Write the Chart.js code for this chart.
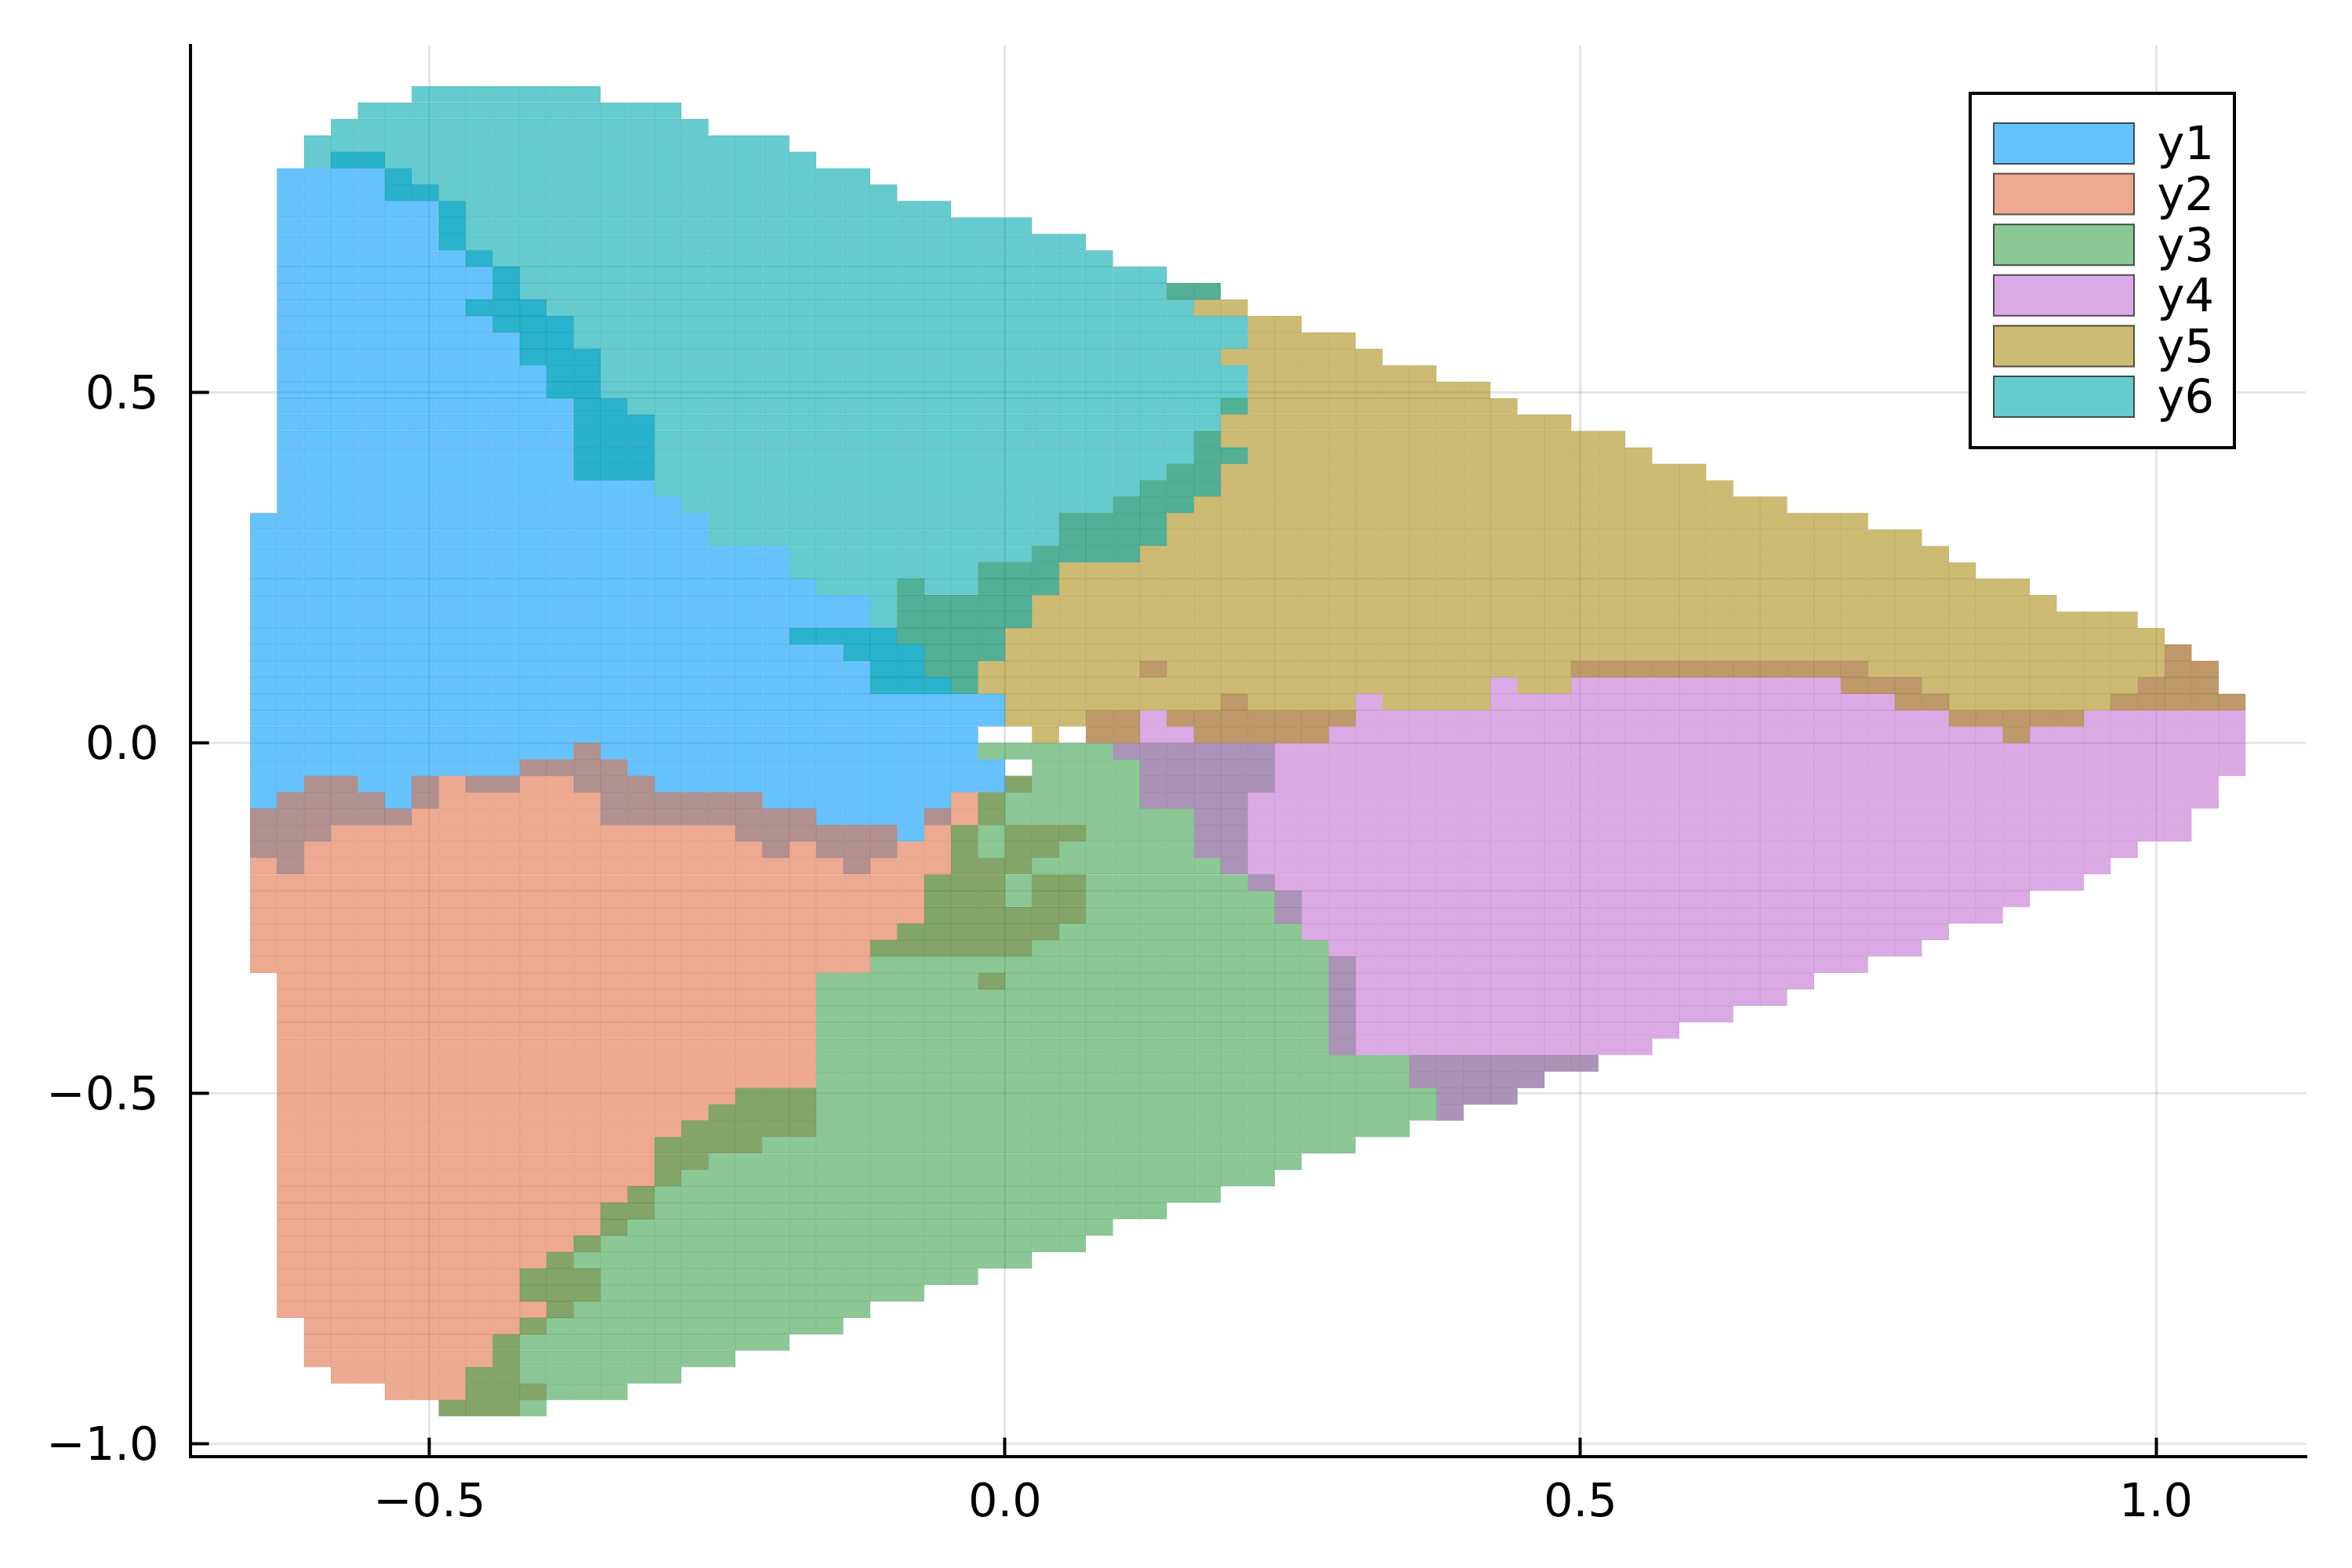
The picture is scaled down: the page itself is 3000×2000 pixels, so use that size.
<!DOCTYPE html>
<html>
<head>
<meta charset="utf-8">
<script src="https://cdn.jsdelivr.net/npm/chart.js@4/dist/chart.umd.min.js"></script>
<style>html,body{margin:0;padding:0;background:#fff}canvas{display:block}</style>
</head>
<body>
<canvas id="c" width="3000" height="2000"></canvas>
<script>
const seriesNames = ['y1','y2','y3','y4','y5','y6'];
const xTicks = [-0.5, 0, 0.5, 1];
const xTickLabels = ['\u22120.5','0.0','0.5','1.0'];
const yTicks = [-1, -0.5, 0, 0.5];
const yTickLabels = ['\u22121.0','\u22120.5','0.0','0.5'];
const binSize = 0.02343;
// each run: [column bin, lowest row edge, highest row edge], in bins of binSize
const y1Runs = [[-28,-7,14],[-27,-8,35],[-26,-6,35],[-25,-5,36],[-24,-5,36],[-23,-5,35],[-22,-4,34],[-21,-2,33],[-20,-3,30],[-19,-3,29],[-18,-2,27],[-17,-2,26],[-16,-3,24],[-15,-5,21],[-14,-5,20],[-13,-5,15],[-12,-5,14],[-11,-5,12],[-10,-6,12],[-9,-7,12],[-8,-6,10],[-7,-7,9],[-6,-8,9],[-5,-7,7],[-4,-6,6],[-3,-5,4],[-2,-3,3],[-1,-3,-1],[-1,1,3]];
const y2Runs = [[-28,-14,-4],[-27,-35,-3],[-26,-38,-2],[-25,-39,-2],[-24,-39,-3],[-23,-40,-4],[-22,-40,-2],[-21,-41,-2],[-20,-41,-2],[-19,-41,-2],[-18,-36,-1],[-18,-40,-39],[-17,-35,-1],[-16,-31,0],[-16,-34,-32],[-15,-30,-1],[-14,-29,-2],[-13,-27,-3],[-12,-26,-3],[-11,-25,-3],[-10,-25,-3],[-9,-24,-4],[-8,-24,-4],[-7,-14,-5],[-6,-14,-5],[-5,-13,-5],[-4,-13,-6],[-3,-13,-4],[-2,-13,-3],[-1,-5,-3],[-1,-13,-7],[-1,-15,-14],[0,-3,-2],[0,-8,-5],[0,-13,-10],[1,-7,-5],[1,-12,-8],[2,-6,-5],[2,-11,-8]];
const y3Runs = [[-21,-41,-40],[-20,-41,-38],[-19,-41,-36],[-18,-41,-35],[-18,-34,-32],[-17,-40,-31],[-16,-40,-30],[-15,-40,-28],[-14,-39,-27],[-13,-39,-24],[-12,-38,-23],[-11,-38,-22],[-10,-37,-21],[-9,-37,-21],[-8,-36,-21],[-7,-36,-14],[-6,-35,-14],[-5,-34,-12],[-4,-34,-11],[-3,-33,-8],[-2,-33,-5],[-1,-32,-3],[-1,-1,0],[0,-32,-2],[0,-1,0],[1,-31,0],[2,-31,0],[3,-30,0],[4,-29,0],[5,-29,0],[6,-28,0],[7,-28,0],[8,-27,0],[9,-27,-8],[9,-3,0],[10,-26,-9],[11,-25,-12],[12,-25,-13],[13,-24,-19],[14,-24,-19],[15,-23,-19],[16,-23,-19],[17,-22,-19],[18,-22,-19],[19,-21,-19],[20,-20,-19],[21,-20,-19]];
const y4Runs = [[3,0,2],[4,-1,2],[5,-4,2],[5,4,5],[6,-4,2],[7,-7,2],[8,-8,3],[9,-9,2],[10,-11,2],[11,-12,2],[12,-19,2],[13,-19,3],[14,-19,2],[15,-21,2],[16,-23,2],[17,-22,2],[18,-22,4],[19,-21,3],[20,-20,3],[21,-20,5],[22,-19,5],[23,-19,5],[24,-18,5],[25,-17,5],[26,-17,5],[27,-16,5],[28,-16,5],[29,-15,5],[30,-14,5],[31,-14,5],[32,-13,4],[33,-13,4],[34,-12,3],[35,-11,2],[36,-11,2],[37,-10,2],[38,-9,2],[39,-9,2],[40,-8,2],[41,-7,3],[42,-6,4],[43,-6,6],[44,-4,5],[45,-2,3]];
const y5Runs = [[-4,6,10],[-3,4,9],[-2,3,9],[-1,3,11],[0,1,11],[1,0,12],[2,1,14],[3,0,14],[4,0,15],[5,2,16],[6,1,17],[6,27,28],[7,0,19],[7,26,28],[8,0,21],[8,23,24],[8,26,27],[9,0,26],[10,0,26],[11,0,25],[12,1,25],[13,3,24],[14,2,23],[15,2,23],[16,2,22],[17,2,22],[18,4,21],[19,3,20],[20,3,20],[21,4,19],[22,4,19],[23,4,18],[24,4,17],[25,4,17],[26,4,16],[27,4,15],[28,4,15],[29,4,14],[30,4,14],[31,3,14],[32,3,13],[33,2,13],[34,2,12],[35,1,11],[36,1,10],[37,0,10],[38,1,9],[39,1,8],[40,2,8],[41,2,8],[42,2,7],[43,2,6],[44,2,5],[45,2,3]];
const y6Runs = [[-26,35,37],[-25,35,38],[-24,35,39],[-23,33,39],[-22,33,40],[-21,30,40],[-20,29,40],[-20,26,27],[-19,25,40],[-18,23,40],[-17,21,40],[-16,16,40],[-15,16,39],[-14,16,39],[-13,15,39],[-12,14,38],[-11,12,37],[-10,12,37],[-9,12,37],[-8,10,36],[-8,6,7],[-7,9,35],[-7,6,7],[-6,9,35],[-6,5,7],[-5,3,34],[-4,3,33],[-3,3,33],[-2,3,32],[-1,5,32],[0,7,32],[1,9,31],[2,11,31],[3,11,30],[4,11,29],[5,12,29],[6,14,28],[7,15,26],[7,27,28],[8,17,18],[8,20,23],[8,24,26]];

const allRuns = [y1Runs,y2Runs,y3Runs,y4Runs,y5Runs,y6Runs];
const rgb = [[0,154,250],[227,111,71],[62,164,78],[195,113,210],[172,141,24],[0,169,173]];
const FONT = {family:'"DejaVu Sans"', size:59};
// Chart.js trims half a grid line off any bar that starts exactly on 0; this keeps row edges off that exact value.
const edgeNudge = 1e-7;

function cells(runs){
  const out = [];
  for (const [col,lo,hi] of runs){
    for (let r=lo; r<hi; r++){
      out.push({x:(col+0.5)*binSize, y:[r*binSize+edgeNudge,(r+1)*binSize+edgeNudge]});
    }
  }
  return out;
}
const datasets = seriesNames.map((name,i)=>{
  const [r,g,b] = rgb[i];
  return {
    label:name,
    data:cells(allRuns[i]),
    backgroundColor:`rgba(${r},${g},${b},0.6)`,
    borderColor:`rgba(${Math.round(r*0.8)},${Math.round(g*0.8)},${Math.round(b*0.8)},0.6)`,
    borderWidth:0.4,
    borderSkipped:false,
    inflateAmount:0.12,
    grouped:false,
    barPercentage:1,
    categoryPercentage:1,
    order:seriesNames.length-i
  };
});

const legendFrame = {
  id:'legendFrame',
  afterLayout(chart){
    const l = chart.legend;
    l.left = 2537.4; l.top = 147.9; l.right = 2849; l.bottom = 566;
    l.width = l.right-l.left; l.height = l.bottom-l.top;
    if (!l._framed){
      l._framed = true;
      const orig = l.draw;
      l.draw = function(){
        const ctx = this.ctx;
        ctx.save();
        ctx.fillStyle = '#fff';
        ctx.strokeStyle = '#000';
        ctx.lineWidth = 4;
        ctx.beginPath();
        ctx.rect(2513,119,337,452);
        ctx.fill();
        ctx.stroke();
        ctx.restore();
        // legend text sits a few pixels lower than Chart.js centres it against the swatch
        const nativeFillText = ctx.fillText;
        ctx.fillText = function(t,x,y,m){ return m===undefined ? nativeFillText.call(ctx,t,x,y+5) : nativeFillText.call(ctx,t,x,y+5,m); };
        orig.call(this);
        delete ctx.fillText;
      };
    }
  }
};
function noEdgePadding(s){ s.paddingTop = 0; s.paddingBottom = 0; s.paddingLeft = 0; s.paddingRight = 0; }

new Chart(document.getElementById('c'),{
  type:'bar',
  data:{datasets},
  plugins:[legendFrame],
  options:{
    responsive:false,
    animation:false,
    events:[],
    devicePixelRatio:1,
    layout:{padding:{top:57.5,right:59,left:0,bottom:0}},
    plugins:{
      tooltip:{enabled:false},
      legend:{
        display:true,
        position:'chartArea',
        align:'start',
        labels:{
          font:FONT,
          color:'#000',
          boxWidth:179,
          boxHeight:52,
          padding:5.6,
          sort:(a,b)=>a.datasetIndex-b.datasetIndex,
          generateLabels(chart){
            return Chart.defaults.plugins.legend.labels.generateLabels(chart).map(it=>({
              ...it, strokeStyle:'rgba(0,0,0,0.65)', lineWidth:2
            }));
          }
        }
      }
    },
    scales:{
      x:{
        type:'linear',
        offset:false,
        min:-0.708, max:1.1301,
        afterBuildTicks(s){ s.ticks = xTicks.map(v=>({value:v})); },
        afterFit(s){ s.height = 142.3; noEdgePadding(s); },
        grid:{offset:false,color:'rgba(0,0,0,0.1)',lineWidth:3,tickColor:'#000',tickWidth:4,tickLength:-24},
        border:{display:true,color:'#000',width:4},
        ticks:{
          font:FONT,color:'#000',padding:50,maxRotation:0,minRotation:0,autoSkip:false,
          callback(v,i){ return xTickLabels[i]; }
        }
      },
      y:{
        type:'linear',
        min:-1.0179, max:0.9957,
        afterBuildTicks(s){ s.ticks = yTicks.map(v=>({value:v})); },
        afterFit(s){ s.width = 242.6; noEdgePadding(s); },
        grid:{color:'rgba(0,0,0,0.1)',lineWidth:3,tickColor:'#000',tickWidth:4,tickLength:-24},
        border:{display:true,color:'#000',width:4},
        ticks:{
          font:FONT,color:'#000',padding:64,labelOffset:5,maxRotation:0,minRotation:0,autoSkip:false,
          callback(v,i){ return yTickLabels[i]; }
        }
      }
    }
  }
});
</script>
</body>
</html>
